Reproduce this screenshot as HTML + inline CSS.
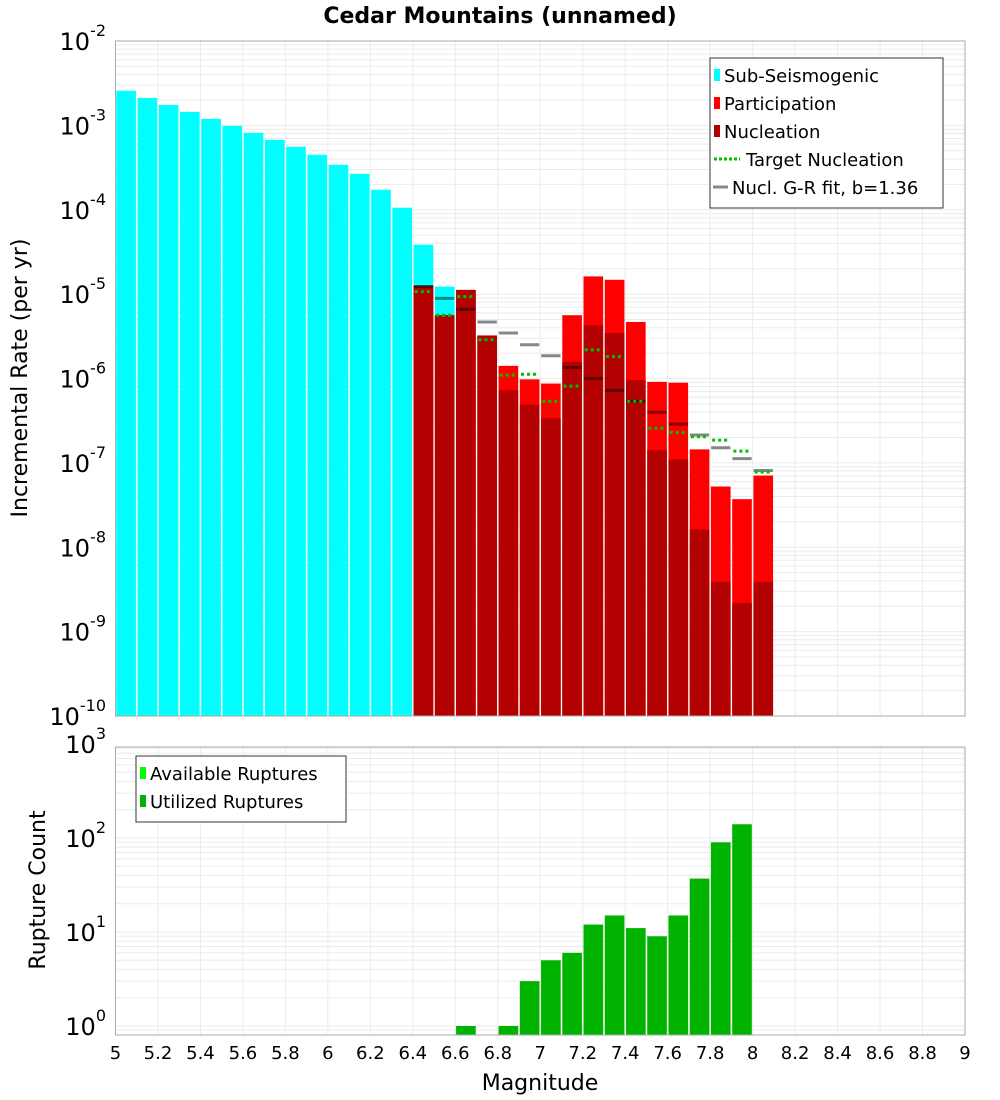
<!DOCTYPE html>
<html><head><meta charset="utf-8"><style>
body{margin:0;background:#fff;}
svg{display:block;font-family:"DejaVu Sans","Liberation Sans",sans-serif;}
</style></head><body>
<svg id="chart" width="1000" height="1100" xmlns="http://www.w3.org/2000/svg">
<text x="500" y="23" text-anchor="middle" font-size="22" font-weight="bold">Cedar Mountains (unnamed)</text>
<g id="topPlot"></g>
<g id="botPlot"></g>
<text transform="translate(27,378) rotate(-90)" text-anchor="middle" font-size="22">Incremental Rate (per yr)</text>
<text transform="translate(45,890) rotate(-90)" text-anchor="middle" font-size="22">Rupture Count</text>
<text x="540" y="1090" text-anchor="middle" font-size="22">Magnitude</text>
</svg>
<script>
// data (log10 values for rates; counts raw)
const subMags=[5.0,5.1,5.2,5.3,5.4,5.5,5.6,5.7,5.8,5.9,6.0,6.1,6.2,6.3,6.4,6.5];
const subRate=[-2.59,-2.675,-2.757,-2.84,-2.923,-3.006,-3.089,-3.172,-3.254,-3.349,-3.467,-3.574,-3.763,-3.976,-4.414,-4.911];
const supMags=[6.4,6.5,6.6,6.7,6.8,6.9,7.0,7.1,7.2,7.3,7.4,7.5,7.6,7.7,7.8,7.9,8.0];
const partRate=[-4.90,-5.25,-4.95,-5.49,-5.85,-6.01,-6.06,-5.25,-4.79,-4.83,-5.33,-6.04,-6.05,-6.84,-7.28,-7.43,-7.15];
const nuclRate=[-4.90,-5.25,-4.95,-5.49,-6.14,-6.31,-6.47,-5.80,-5.37,-5.46,-6.02,-6.85,-6.96,-7.79,-8.41,-8.66,-8.41];
const targetRate=[-4.97,-5.25,-5.03,-5.54,-5.96,-5.95,-6.27,-6.09,-5.66,-5.74,-6.27,-6.59,-6.64,-6.69,-6.73,-6.86,-7.11];
const grRate=[-4.91,-5.05,-5.18,-5.33,-5.46,-5.60,-5.73,-5.87,-6.00,-6.14,-6.27,-6.40,-6.54,-6.67,-6.82,-6.95,-7.09];
const cntMags=[6.6,6.8,6.9,7.0,7.1,7.2,7.3,7.4,7.5,7.6,7.7,7.8,7.9];
const cntVals=[1,1,3,5,6,12,15,11,9,15,37,90,140];
const xTicks=["5","5.2","5.4","5.6","5.8","6","6.2","6.4","6.6","6.8","7","7.2","7.4","7.6","7.8","8","8.2","8.4","8.6","8.8","9"];

const NS="http://www.w3.org/2000/svg";
const L=115.5,R=965,T1=41,B1=716,T2=747,B2=1035;
const X=m=>L+(m-5)*(R-L)/4;
const Y1=lg=>T1+(-2-lg)*(B1-T1)/8;
const Y2=v=>1026-94*Math.log10(v);
function mk(p,tag,a){const e=document.createElementNS(NS,tag);for(const k in a)e.setAttribute(k,a[k]);p.appendChild(e);return e;}
const topG=document.getElementById('topPlot'),botG=document.getElementById('botPlot');

function grid(g,t,b,yf,decs){
  for(let i=0;i<=20;i++){const x=X(5+i*0.2);const l=mk(g,'line',{x1:x,x2:x,y1:t,y2:b,stroke:'#ebebeb','stroke-width':1});
    
    }
  for(const d of decs){for(let k=1;k<10;k++){const y=yf(d+Math.log10(k));if(y<t||y>b)continue;
    const l=mk(g,'line',{x1:L,x2:R,y1:y,y2:y,stroke:'#ebebeb','stroke-width':1});
    
    }}
}
grid(topG,T1,B1,Y1,[-10,-9,-8,-7,-6,-5,-4,-3,-2]);
grid(botG,T2,B2,v=>Y2(Math.pow(10,v)),[-1,0,1,2,3]);

const w=(R-L)/40;
function bar(g,m,yTop,yBot,fill,name){const r=mk(g,'rect',{x:X(m)+0.8,y:yTop,width:w-1.6,height:Math.max(0,yBot-yTop),fill:fill});
  
  }
subMags.forEach((m,i)=>bar(topG,m,Y1(subRate[i]),B1,'#00ffff','sub-seismogenic-bar'));
supMags.forEach((m,i)=>bar(topG,m,Y1(partRate[i]),B1,'#ff0000','participation-bar'));
supMags.forEach((m,i)=>bar(topG,m,Y1(nuclRate[i]),B1,'#b30000','nucleation-bar'));
supMags.forEach((m,i)=>{const y=Y1(grRate[i]);const l=mk(topG,'line',{x1:X(m)+1,x2:X(m)+w-1,y1:y,y2:y,stroke:'rgba(0,0,0,0.47)','stroke-width':3});
  
  });
supMags.forEach((m,i)=>{const y=Y1(targetRate[i]);const l=mk(topG,'line',{x1:X(m)+2,x2:X(m)+w-2,y1:y,y2:y,stroke:'#00c000','stroke-width':3,'stroke-dasharray':'3,3'});
  
  });
cntMags.forEach((m,i)=>bar(botG,m,Y2(cntVals[i]),B2,'#00b300','utilized-ruptures-bar'));

[[T1,B1,topG],[T2,B2,botG]].forEach(([t,b,g])=>{const r=mk(g,'rect',{x:L,y:t,width:R-L,height:b-t,fill:'none',stroke:'#aaa','stroke-width':1});
  
  });

function ylab(g,y,exp,name){const t=mk(g,'text',{x:106,y:y+9,'text-anchor':'end','font-size':24});
  
  
  t.appendChild(document.createTextNode('10'));
  const s=mk(t,'tspan',{dy:-14,'font-size':16});s.textContent=exp;}
for(let e=-10;e<=-2;e++)ylab(topG,Y1(e),String(e),'y-tick-label-rate');
for(let e=0;e<=3;e++)ylab(botG,Y2(Math.pow(10,e)),String(e),'y-tick-label-count');
xTicks.forEach((s,i)=>{const t=mk(botG,'text',{x:X(5+i*0.2),y:1059,'text-anchor':'middle','font-size':18});
  
  
  t.textContent=s;});

function legend(g,x,y,wd,items){const bx=mk(g,'rect',{x:x,y:y,width:wd,height:items.length*28+10,fill:'#fff',stroke:'#333','stroke-width':1});
  
  
  items.forEach((it,i)=>{const cy=y+17+i*28;const gg=mk(g,'g',{});
    
    
    let tx=x+14;
    if(it.t==='sq'){mk(gg,'rect',{x:x+4,y:cy-6,width:6,height:12,fill:it.c});}
    else if(it.t==='dot'){mk(gg,'line',{x1:x+4,x2:x+30,y1:cy,y2:cy,stroke:it.c,'stroke-width':3,'stroke-dasharray':'3,2'});tx=x+36;}
    else{mk(gg,'line',{x1:x+3,x2:x+18,y1:cy,y2:cy,stroke:it.c,'stroke-width':3});tx=x+22;}
    const t=mk(gg,'text',{x:tx,y:cy+7,'font-size':18});t.textContent=it.s;});
}
legend(topG,710,58,233,[{t:'sq',c:'#00ffff',s:'Sub-Seismogenic'},{t:'sq',c:'#ff0000',s:'Participation'},{t:'sq',c:'#b30000',s:'Nucleation'},{t:'dot',c:'#00c000',s:'Target Nucleation'},{t:'ln',c:'#888',s:'Nucl. G-R fit, b=1.36'}]);
legend(botG,136,756,210,[{t:'sq',c:'#00ff00',s:'Available Ruptures'},{t:'sq',c:'#00b300',s:'Utilized Ruptures'}]);
</script>
</body></html>
